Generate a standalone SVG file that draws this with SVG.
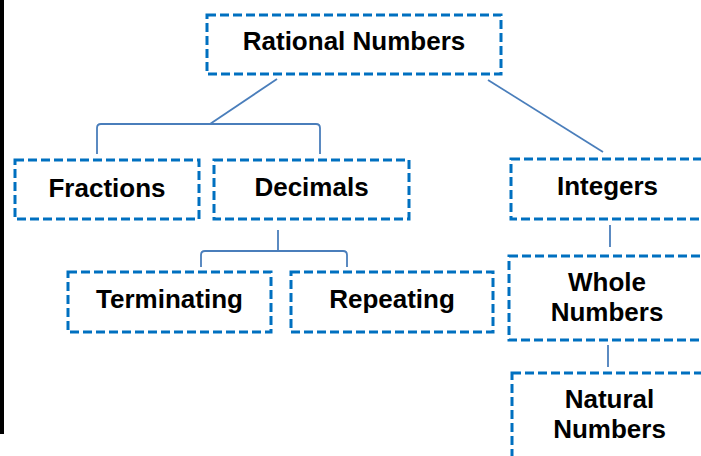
<svg xmlns="http://www.w3.org/2000/svg" width="701" height="456" viewBox="0 0 701 456">
<style>
.box{fill:#fff;stroke:#0070c0;stroke-width:3;stroke-dasharray:9 4}
.lbl{font-family:"Liberation Sans",Arial,sans-serif;font-weight:bold;font-size:26px;fill:#000;text-anchor:middle}
.con{fill:none;stroke:#4a7ebb;stroke-width:1.8}
</style>
<rect x="0" y="0" width="701" height="456" fill="#fff"/>
<rect x="0" y="0" width="4" height="434" fill="#000"/>
<g id="connectors">
<line class="con" x1="277" y1="79" x2="210" y2="124"/>
<path class="con" d="M97 154 V128 Q97 124 101 124 H316 Q320 124 320 128 V154"/>
<line class="con" x1="488" y1="80" x2="603" y2="152"/>
<line class="con" x1="278" y1="230" x2="278" y2="251"/>
<path class="con" d="M201 267 V255 Q201 251 205 251 H343 Q347 251 347 255 V267"/>
<line class="con" x1="610" y1="225" x2="610" y2="247"/>
<line class="con" x1="608" y1="345" x2="608" y2="367"/>
</g>
<g id="rational">
<rect class="box" x="207" y="15" width="294" height="59"/>
<text class="lbl" x="354" y="50">Rational Numbers</text>
</g>
<g id="fractions">
<rect class="box" x="15" y="160" width="184" height="59"/>
<text class="lbl" x="107" y="197">Fractions</text>
</g>
<g id="decimals">
<rect class="box" x="214" y="160" width="195" height="59"/>
<text class="lbl" x="311.5" y="196">Decimals</text>
</g>
<g id="integers">
<rect class="box" x="511" y="159" width="194" height="60"/>
<text class="lbl" x="607.5" y="195">Integers</text>
</g>
<g id="terminating">
<rect class="box" x="68" y="272" width="203" height="60"/>
<text class="lbl" x="169.5" y="308">Terminating</text>
</g>
<g id="repeating">
<rect class="box" x="291" y="272" width="202" height="60"/>
<text class="lbl" x="392" y="308">Repeating</text>
</g>
<g id="whole">
<rect class="box" x="509" y="256" width="196" height="84"/>
<text class="lbl" x="607" y="291">Whole</text>
<text class="lbl" x="607" y="321">Numbers</text>
</g>
<g id="natural">
<rect class="box" x="512" y="373" width="196" height="100"/>
<text class="lbl" x="609.5" y="408">Natural</text>
<text class="lbl" x="609.5" y="438">Numbers</text>
</g>
</svg>
